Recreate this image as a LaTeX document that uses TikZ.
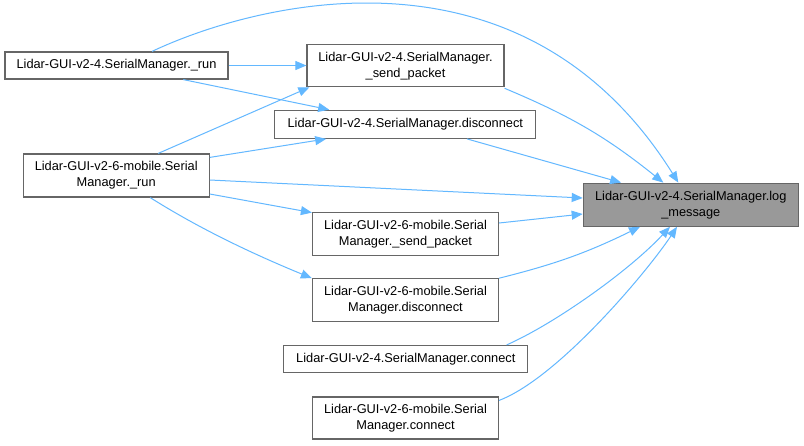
\documentclass[tikz,border=0pt]{standalone}
\usepackage{fontspec}
\setmainfont{Liberation Sans}
\usetikzlibrary{arrows.meta,calc}
\definecolor{edgeblue}{HTML}{63B8FF}
\definecolor{boxgray}{HTML}{666666}
\definecolor{hlfill}{HTML}{999999}
\begin{document}
\begin{tikzpicture}[x=1pt,y=-1pt,
  box/.style={draw=boxgray,line width=1.2pt,fill=white,rectangle,inner sep=0pt,align=center,
    font=\fontsize{12.8}{16}\selectfont},
  hl/.style={box,fill=hlfill},
  edge/.style={draw=edgeblue,line width=1pt,-{Triangle[length=11pt,width=9pt]}}]
\useasboundingbox[fill=white] (0,0) rectangle (804,445);

\node[box,minimum width=223pt,minimum height=27pt] (A) at (116.5,65.5) {Lidar-GUI-v2-4.SerialManager.\_run};
\node[box,minimum width=197pt,minimum height=42pt] (B) at (405.5,65.7) {Lidar-GUI-v2-4.SerialManager.\\\_send\_packet};
\node[box,minimum width=261pt,minimum height=28pt] (C) at (405.3,124.3) {Lidar-GUI-v2-4.SerialManager.disconnect};
\node[box,minimum width=186pt,minimum height=43pt] (D) at (116.2,175.5) {Lidar-GUI-v2-6-mobile.Serial\\Manager.\_run};
\node[hl,minimum width=215pt,minimum height=43pt] (E) at (690.8,204.7) {Lidar-GUI-v2-4.SerialManager.log\\\_message};
\node[box,minimum width=186pt,minimum height=43pt] (F) at (405.5,233.7) {Lidar-GUI-v2-6-mobile.Serial\\Manager.\_send\_packet};
\node[box,minimum width=186pt,minimum height=43pt] (G) at (405.5,300.3) {Lidar-GUI-v2-6-mobile.Serial\\Manager.disconnect};
\node[box,minimum width=244pt,minimum height=27pt] (H) at (405.8,359) {Lidar-GUI-v2-4.SerialManager.connect};
\node[box,minimum width=186pt,minimum height=42pt] (I) at (405.5,418) {Lidar-GUI-v2-6-mobile.Serial\\Manager.connect};

% A edges
\draw[edge] ($(A.north)+(35.5,0)$) .. controls (250,5) and (520,-70) .. ($(E.north)+(-12.5,0)$);
\draw[edge] (A.east) -- (A.east -| B.west);
\draw[edge] ($(A.south)+(66.8,0)$) -- ($(C.north west)+(55,0)$);
% D edges
\draw[edge] ($(D.north)+(42,0)$) -- ($(B.south west)+(3,0)$);
\draw[edge] ($(D.north east)+(0,4)$) -- ($(C.south west)+(52,0)$);
\draw[edge] ($(D.east)+(0,4.5)$) -- ($(E.west)+(0,-6.7)$);
\draw[edge] ($(D.east)+(0,18.5)$) -- ($(F.north west)+(0,1)$);
\draw[edge] ($(D.south)+(34,0)$) .. controls (200,229) and (253,254) .. (G.north west);
% into E
\draw[edge] ($(B.south east)+(0,1)$) to[bend left=8] ($(E.north)+(-27.5,0)$);
\draw[edge] ($(C.south)+(61.7,0)$) -- ($(E.north west)+(38.4,0)$);
\draw[edge] ($(F.east)+(0,-10.7)$) -- ($(E.west)+(0,9.3)$);
\draw[edge] (G.north east) to[bend right=6] ($(E.south)+(-50.8,0)$);
\draw[edge] ($(H.north east)+(-21.7,0)$) .. controls (556,323) and (630,270) .. ($(E.south)+(-20.8,0)$);
\draw[edge] ($(I.north east)+(0,4)$) .. controls (558,378) and (647,272) .. ($(E.south)+(-13.8,0)$);
\end{tikzpicture}
\end{document}
